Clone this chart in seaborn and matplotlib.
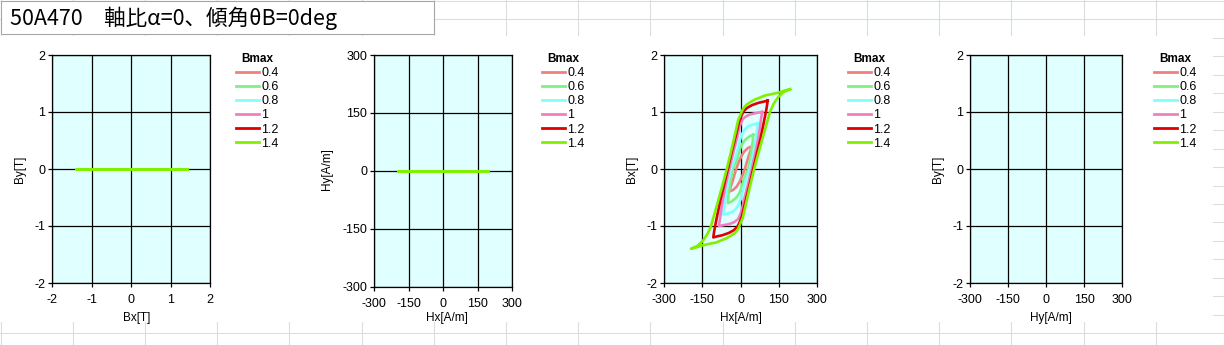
import numpy as np
import pandas as pd
import matplotlib
matplotlib.use("Agg")
import matplotlib.pyplot as plt
import seaborn as sns
from matplotlib import font_manager
from matplotlib.patches import Rectangle

W, H = 1224, 345

# ---- data -------------------------------------------------------------
bmax_levels = ["0.4", "0.6", "0.8", "1", "1.2", "1.4"]
level_colors = ["#F08080", "#80F080", "#80FFFF", "#F080C0", "#E00000", "#80F000"]

# Descending branch of each Bx-Hx loop, from the +Bmax tip to the -Bmax tip.
# The rising branch is the point reflection of it through the origin.
h_04 = [46, 30, 15, 3, -8, -17, -25, -33, -40, -46]
b_04 = [0.40, 0.37, 0.31, 0.22, 0.11, 0.00, -0.12, -0.24, -0.33, -0.40]

h_06 = [50, 35, 18, 8, 0, -12, -30, -38, -44, -48, -50]
b_06 = [0.60, 0.57, 0.51, 0.45, 0.38, 0.19, 0.00, -0.17, -0.34, -0.48, -0.60]

h_08 = [68, 50, 31, 18, 8, 0, -10, -22, -37, -48, -56, -62, -66, -68]
b_08 = [0.80, 0.78, 0.75, 0.70, 0.63, 0.54, 0.36, 0.18, 0.00, -0.22, -0.42, -0.60, -0.72, -0.80]

h_10 = [85, 60, 40, 24, 10, 2, -5, -15, -30, -44, -57, -68, -76, -81, -84, -85]
b_10 = [1.00, 0.98, 0.96, 0.93, 0.88, 0.81, 0.72, 0.52, 0.26, 0.00, -0.25, -0.50, -0.72, -0.88, -0.96, -1.00]

h_12 = [107, 90, 70, 45, 25, 12, 3, -6, -20, -35, -50, -65, -78, -90, -99, -104, -107]
b_12 = [1.20, 1.18, 1.16, 1.12, 1.07, 1.01, 0.93, 0.82, 0.56, 0.29, 0.00, -0.28, -0.52, -0.78, -0.98, -1.10, -1.20]

h_14 = [195, 170, 149, 120, 96, 75, 57, 38, 24, 12, 5, -2, -9, -20, -36, -54,
        -70, -87, -102, -116, -130, -148, -170, -195]
b_14 = [1.40, 1.37, 1.34, 1.31, 1.29, 1.25, 1.22, 1.17, 1.13, 1.07, 1.01, 0.93, 0.86, 0.64, 0.33, 0.00,
        -0.27, -0.54, -0.78, -1.00, -1.14, -1.26, -1.35, -1.40]

branches = {"0.4": (h_04, b_04), "0.6": (h_06, b_06), "0.8": (h_08, b_08),
            "1": (h_10, b_10), "1.2": (h_12, b_12), "1.4": (h_14, b_14)}

x_ticks_b = [-2, -1, 0, 1, 2]
x_ticks_h = [-300, -150, 0, 150, 300]

title_text = "50A470\u3000軸比α=0、傾角θB=0deg"

# ---- build long-form table -------------------------------------------
rows = []
for lvl in bmax_levels:
    h, b = branches[lvl]
    h = np.asarray(h, float)
    b = np.asarray(b, float)
    hx = np.concatenate([h, -h[1:]])
    bx = np.concatenate([b, -b[1:]])
    for i, (hh, bb) in enumerate(zip(hx, bx)):
        rows.append({"Bmax": lvl, "step": i, "Hx": hh, "Bx": bb, "Hy": 0.0, "By": 0.0})
df = pd.DataFrame(rows)

# ---- fonts ------------------------------------------------------------
available = {f.name for f in font_manager.fontManager.ttflist}
narrow = "Liberation Sans Narrow" if "Liberation Sans Narrow" in available else "Liberation Sans"
plt.rcParams["font.family"] = ["Liberation Sans", "DejaVu Sans"]

fig = plt.figure(figsize=(W / 100, H / 100), dpi=100)
fig.patch.set_facecolor("white")

# ---- worksheet backdrop -------------------------------------------------
bg = fig.add_axes([0, 0, 1, 1])
bg.set_xlim(0, W)
bg.set_ylim(H, 0)
bg.axis("off")
bg.set_zorder(-5)
cell_color = "#DADCDF"
for k in range(0, 18):
    bg.axvline(0.5 + 72.2 * k, color=cell_color, lw=0.8)
for k in range(0, 20):
    bg.axhline(1.0 + 18.45 * k, color=cell_color, lw=0.8)
# chart objects (white)
for (x0, y0, x1, y1) in [(0, 36, 306, 322), (306, 36, 616, 322),
                         (616, 36, 918, 322), (918, 36, 1213, 322)]:
    bg.add_patch(Rectangle((x0, y0), x1 - x0, y1 - y0, facecolor="white",
                           edgecolor="none", zorder=2))
# title box
bg.add_patch(Rectangle((1, 1), 433, 33, facecolor="white", edgecolor="#A6A6A6",
                       lw=0.8, zorder=3))
bg.text(10, 18.5, title_text, va="center", ha="left", fontsize=15.5, zorder=4,
        family=["Noto Sans CJK JP", "DejaVu Sans"])


def px_axes(x0, y0, x1, y1):
    return fig.add_axes([x0 / W, 1 - y1 / H, (x1 - x0) / W, (y1 - y0) / H])


def style(ax, xt, yt):
    ax.set_facecolor("#E0FFFF")
    ax.set_xlim(xt[0], xt[-1])
    ax.set_ylim(yt[0], yt[-1])
    ax.set_xticks(xt)
    ax.set_yticks(yt)
    ax.set_xticklabels([str(v) for v in xt])
    ax.set_yticklabels([str(v) for v in yt])
    ax.grid(True, color="black", lw=0.9)
    ax.set_axisbelow(True)
    for s in ax.spines.values():
        s.set_color("black")
        s.set_linewidth(0.9)
    ax.tick_params(direction="out", length=3, width=0.9, labelsize=9, color="black", pad=2)
    ax.tick_params(axis="x", pad=5)
    ax.set_xlabel("")
    ax.set_ylabel("")


legend_kw = dict(frameon=False, title="Bmax", fontsize=9, title_fontsize=8.5,
                 handlelength=1.8, handletextpad=0.2, labelspacing=0.17,
                 borderpad=0, borderaxespad=0, loc="upper left")


def place_legend(ax, x, y, handles=None, labels=None):
    if handles is None:
        sns.move_legend(ax, bbox_to_anchor=(x / W, 1 - y / H),
                        bbox_transform=fig.transFigure, **legend_kw)
        leg = ax.get_legend()
    else:
        leg = ax.legend(handles, labels, bbox_to_anchor=(x / W, 1 - y / H),
                        bbox_transform=fig.transFigure, **legend_kw)
    leg.get_title().set_fontweight("bold")
    for ln in leg.get_lines():
        ln.set_linewidth(2.0)
    return leg


line_kw = dict(hue="Bmax", hue_order=bmax_levels, palette=level_colors,
               sort=False, estimator=None, lw=1.9)

panels = [
    dict(box=(52.3, 55, 210.3, 283), x="Bx", y="By", xt=x_ticks_b, yt=x_ticks_b,
         xl="Bx[T]", yl="By[T]", xlpos=(137, 318), ylpos=(20, 169), leg=(236, 53)),
    dict(box=(374.3, 55, 512.3, 286.7), x="Hx", y="Hy", xt=x_ticks_h, yt=x_ticks_h,
         xl="Hx[A/m]", yl="Hy[A/m]", xlpos=(447, 318), ylpos=(327, 169), leg=(542, 53)),
    dict(box=(664.3, 55, 816.7, 283), x="Hx", y="Bx", xt=x_ticks_h, yt=x_ticks_b,
         xl="Hx[A/m]", yl="Bx[T]", xlpos=(741, 318), ylpos=(632, 169), leg=(848, 53)),
    dict(box=(970, 55, 1122.3, 283), x=None, y=None, xt=x_ticks_h, yt=x_ticks_b,
         xl="Hy[A/m]", yl="By[T]", xlpos=(1051, 318), ylpos=(938, 169), leg=(1154, 53)),
]

handles = labels = None
for p in panels:
    ax = px_axes(*p["box"])
    if p["x"] is not None:
        sns.lineplot(data=df, x=p["x"], y=p["y"], ax=ax, **line_kw)
        style(ax, p["xt"], p["yt"])
        handles, labels = ax.get_legend_handles_labels()
        place_legend(ax, *p["leg"])
    else:
        style(ax, p["xt"], p["yt"])
        place_legend(ax, *p["leg"], handles=handles, labels=labels)
    bg.text(p["xlpos"][0], p["xlpos"][1], p["xl"], ha="center", va="center",
            fontsize=8.5, family=[narrow, "DejaVu Sans"])
    bg.text(p["ylpos"][0], p["ylpos"][1], p["yl"], ha="center", va="center",
            fontsize=8.5, rotation=90, family=[narrow, "DejaVu Sans"])

fig.savefig("out.png", dpi=100, facecolor="white")
